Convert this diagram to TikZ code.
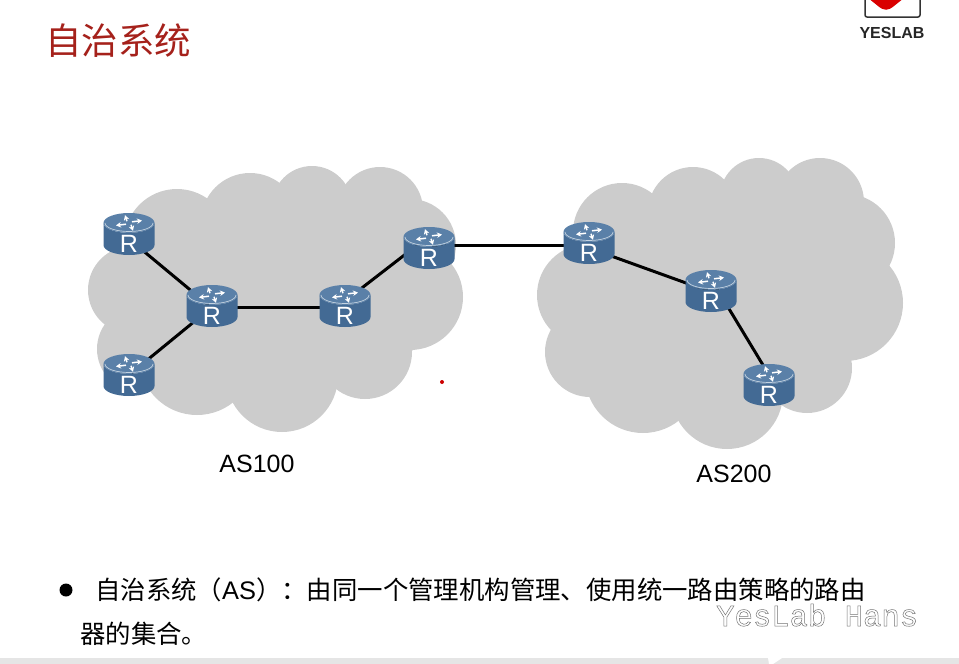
\documentclass[tikz,border=0pt]{standalone}
\usepackage{fontspec}
\setmainfont{Liberation Sans}
\newfontfamily\cjk{Noto Sans CJK SC}
\newfontfamily\wmfont{Liberation Mono}
\usetikzlibrary{positioning,shapes.geometric,arrows.meta,backgrounds}
\definecolor{cloudgray}{HTML}{CCCCCC}
\definecolor{routerblue}{HTML}{436A94}
\definecolor{routertop}{HTML}{5A80A8}
\definecolor{titlered}{HTML}{A5211B}
\tikzset{
  router/.style={cylinder, anchor=shape center, shape border rotate=90, aspect=1.1, minimum width=51pt, minimum height=42pt,
    cylinder uses custom fill, cylinder body fill=routerblue, cylinder end fill=routertop,
    inner sep=0pt, text=white, font=\fontsize{25}{25}\selectfont},
  link/.style={line width=3pt, black},
  cloud part/.style={fill=cloudgray},
  body text/.style={anchor=base west, inner sep=0pt, font=\fontsize{25.4}{25}\selectfont\cjk}
}
\begin{document}
\begin{tikzpicture}[x=1pt,y=-1pt]
  \useasboundingbox (0,0) rectangle (959,664);
  % routers
  \foreach \name/\px/\py in {ra/129/234,rb/212/306,rc/345/306,rd/429/248,re/589/243,rf/711/291,rg/769/385,rh/129/375} {
    \node[router] (\name) at (\px,\py) {\raisebox{-13pt}[0pt][0pt]{R}};
    \draw[white!65!routertop, line width=.7pt] (\px-24,\py-11) arc (180:0:24 and 8.5);
    \foreach \ang in {0,90,180,270}
      \draw[white, line width=1.5pt, -{Stealth[length=5pt,width=5.5pt]}, shift={(\px,\py-11)}, yscale=.6, rotate=\ang] (3,-2) -- (13,-4);
  }
  \begin{scope}[on background layer]
    % AS100
    \foreach \px/\py/\pr in {177/242/53,250/222/49,312/206/40,380/210/43,410/245/46,410/297/53,365/352/47,
        282/376/56,197/357/58,140/349/43,132/290/44,280/300/105,170/290/60,380/300/60}
      \fill[cloud part] (\px,\py) circle (\pr);
    % AS200
    \foreach \px/\py/\pr in {622/232/49,693/212/45,759/197/39,820/202/44,846/243/49,845/303/58,807/368/45,
        727/393/56,643/375/58,590/352/45,588/295/51,720/300/110,640/290/70,800/310/70}
      \fill[cloud part] (\px,\py) circle (\pr);
    % links
    \draw[link] ([yshift=-5pt]ra.shape center) -- ([yshift=-2pt]rb.shape center);
    \draw[link] (rh.shape center) -- ([yshift=-1pt]rb.shape center);
    \draw[link] ([yshift=-1pt]rb.shape center) -- ([yshift=-1pt]rc.shape center);
    \draw[link] ([yshift=5pt]rc.shape center) -- ([yshift=12pt]rd.shape center);
    \draw[link] ([yshift=3pt]rd.shape center) -- ([yshift=-2pt]re.shape center);
    \draw[link] ([yshift=-5pt]re.shape center) -- ([yshift=-1pt]rf.shape center);
    \draw[link] ([yshift=12pt]rf.shape center) -- ([yshift=10pt]rg.shape center);
  \end{scope}
  \node[font=\fontsize{25}{25}\selectfont] (as100) at (257,464) {AS100};
  \node[font=\fontsize{25}{25}\selectfont] (as200) at (734,474) {AS200};
  \fill[red!80!black] (442,382) circle (2);
  % title and text
  \node[anchor=base west, inner sep=0pt, text=titlered, font=\fontsize{36.5}{36}\selectfont\cjk] (title) at (45,54) {自治系统};
  \fill[black] (66,590) circle (6.5);
  \node[body text] (line1) at (95,599) {自治系统（\textrm{AS}）：由同一个管理机构管理、使用统一路由策略的路由};
  \node[body text] (line2) at (80,643) {器的集合。};
  \node[anchor=base west, inner sep=0pt, text=black!55, font=\fontsize{30.6}{30}\selectfont\wmfont] (mark) at (716,626)
    {\special{pdf:code q 1 Tr 0.5 w}YesLab Hans\special{pdf:code Q}};
  % logo
  \draw[line width=1.5pt, black!80, rounded corners=2pt] (865,-5) -- (865,17) -- (920,17) -- (920,-5);
  \fill[red!85!black] (868,-2) -- (878,6) .. controls (884,11) and (888,11) .. (894,6) -- (904,-2) -- cycle;
  \node[font=\fontsize{16}{16}\selectfont\bfseries, text=black!85] (logo) at (892,33) {YESLAB};
  % bottom bar
  \fill[black!10] (0,658) rectangle (959,664);
  \fill[white] (768,658) -- (782,658) -- (773,664) -- (769,664) -- cycle;
\end{tikzpicture}
\end{document}
